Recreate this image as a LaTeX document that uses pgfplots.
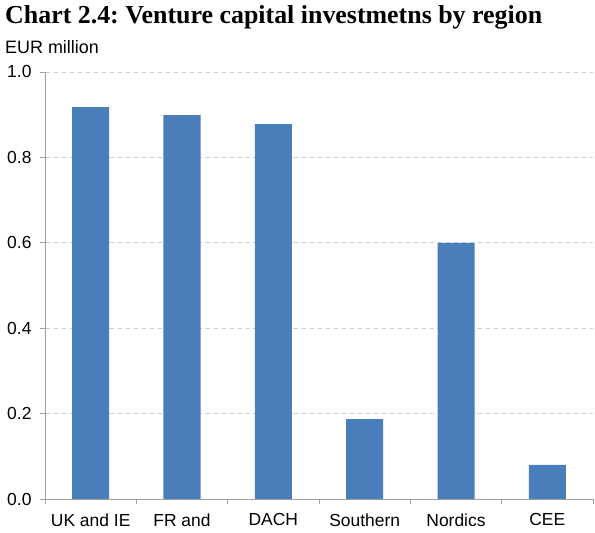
\documentclass[border=0pt]{standalone}
\usepackage{fontspec}
\setmainfont{Liberation Serif}
\newfontfamily\arial{Liberation Sans}
\usepackage{pgfplots}
\pgfplotsset{compat=1.18}
\definecolor{barblue}{HTML}{4A7EBB}
\definecolor{gridgray}{HTML}{D0D0D0}
\definecolor{axisgray}{HTML}{A0A0A0}
\frenchspacing
\begin{document}
\begin{tikzpicture}
\useasboundingbox (0,0) rectangle (595bp,533bp);
\node[anchor=west,font=\fontsize{26}{28}\selectfont\bfseries,inner sep=0pt] at (5bp,516bp) {Chart 2.4: Venture capital investmetns by region};
\node[anchor=west,font=\arial\fontsize{18}{20}\selectfont,inner sep=0pt] at (5bp,486bp) {EUR million};
\begin{axis}[
  at={(45bp,34bp)}, anchor=south west,
  width=548bp, height=427bp, scale only axis,
  xmin=-0.5, xmax=5.5, ymin=0, ymax=1.0,
  axis x line*=bottom, axis y line*=left,
  axis line style={axisgray, line width=0.8pt, -},
  ytick={0,0.2,0.4,0.6,0.8,1.0},
  /pgf/number format/fixed, /pgf/number format/fixed zerofill, /pgf/number format/precision=1,
  /pgf/number format/assume math mode=true,
  ticklabel style={font=\arial\fontsize{17.5}{20}\selectfont, text=black},
  xtick={0,1,2,3,4,5},
  xticklabels={UK and IE, FR and, DACH, Southern, Nordics, CEE},
  minor xtick={-0.5,0.5,1.5,2.5,3.5,4.5,5.5},
  major x tick style={draw=none},
  minor x tick style={axisgray, line width=0.8pt},
  y tick style={axisgray, line width=0.8pt},
  tick align=outside,
  major tick length=5bp, minor tick length=5bp,
  ymajorgrids,
  grid style={gridgray, dashed, dash pattern=on 5bp off 3bp, line width=0.8pt},
  xticklabel style={yshift=-6bp},
  yticklabel style={xshift=-5bp},
  ybar, bar width=37bp,
  clip=false,
]
\addplot[fill=barblue, draw=none] coordinates {(0,0.918) (1,0.899) (2,0.878) (3,0.187) (4,0.60) (5,0.08)};
\end{axis}
\end{tikzpicture}
\end{document}
